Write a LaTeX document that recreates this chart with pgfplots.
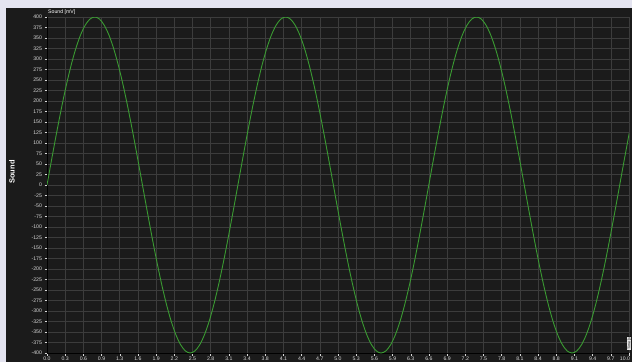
\documentclass[border=0pt]{standalone}
\usepackage{pgfplots}
\pgfplotsset{compat=1.18}
\usepackage{fontspec}
\setmainfont{Liberation Sans}
\definecolor{outerbg}{HTML}{E4E4F0}
\definecolor{panel}{HTML}{1B1B1B}
\definecolor{gridc}{HTML}{3C3C3C}
\definecolor{tickc}{HTML}{D8D8D8}
\definecolor{wave}{HTML}{3A9A32}
\begin{document}
\begin{tikzpicture}[x=1bp,y=1bp]
\fill[outerbg] (0,0) rectangle (632,362);
\fill[panel] (6,0) rectangle (632,354);
\begin{axis}[
  at={(47bp,9bp)}, anchor=south west,
  scale only axis, width=582bp, height=336bp,
  xmin=0, xmax=10, ymin=-400, ymax=400,
  xtick={0,0.3125,...,10.01},
  xticklabels={0.0,0.3,0.6,0.9,1.3,1.6,1.9,2.2,2.5,2.8,3.1,3.4,3.8,4.1,4.4,4.7,5.0,5.3,5.6,5.9,6.3,6.6,6.9,7.2,7.5,7.8,8.1,8.4,8.8,9.1,9.4,9.7,{\hspace*{-8bp}10.0}},
  ytick={-400,-375,...,400},
  grid=major,
  major grid style={gridc, line width=0.6bp},
  axis line style={draw=gridc!150, line width=0.6bp},
  axis x line*=bottom, axis y line*=left,
  tick style={tickc, line width=0.5bp},
  tick align=outside, major tick length=2.5bp,
  tick label style={font=\fontsize{5.2}{6}\selectfont, text=tickc},
  xticklabel style={yshift=1.8bp},
  yticklabel style={xshift=1bp},
  /pgf/number format/assume math mode=true,
  clip=true,
]
\addplot[wave, line width=0.9bp, smooth, tension=0.5] coordinates {
(0,0) (0.082,62.6) (0.164,123.6) (0.246,181.6) (0.328,235.1) (0.410,282.8) (0.492,323.6) (0.574,356.4) (0.656,380.4) (0.738,395.1)
(0.820,400) (0.902,395.1) (0.984,380.4) (1.066,356.4) (1.148,323.6) (1.230,282.8) (1.312,235.1) (1.394,181.6) (1.476,123.6) (1.558,62.6)
(1.640,0) (1.722,-62.6) (1.804,-123.6) (1.886,-181.6) (1.968,-235.1) (2.050,-282.8) (2.132,-323.6) (2.214,-356.4) (2.296,-380.4) (2.378,-395.1)
(2.460,-400) (2.542,-395.1) (2.624,-380.4) (2.706,-356.4) (2.788,-323.6) (2.870,-282.8) (2.952,-235.1) (3.034,-181.6) (3.116,-123.6) (3.198,-62.6)
(3.280,0) (3.362,62.6) (3.444,123.6) (3.526,181.6) (3.608,235.1) (3.690,282.8) (3.772,323.6) (3.854,356.4) (3.936,380.4) (4.018,395.1)
(4.100,400) (4.182,395.1) (4.264,380.4) (4.346,356.4) (4.428,323.6) (4.510,282.8) (4.592,235.1) (4.674,181.6) (4.756,123.6) (4.838,62.6)
(4.920,0) (5.002,-62.6) (5.084,-123.6) (5.166,-181.6) (5.248,-235.1) (5.330,-282.8) (5.412,-323.6) (5.494,-356.4) (5.576,-380.4) (5.658,-395.1)
(5.740,-400) (5.822,-395.1) (5.904,-380.4) (5.986,-356.4) (6.068,-323.6) (6.150,-282.8) (6.232,-235.1) (6.314,-181.6) (6.396,-123.6) (6.478,-62.6)
(6.560,0) (6.642,62.6) (6.724,123.6) (6.806,181.6) (6.888,235.1) (6.970,282.8) (7.052,323.6) (7.134,356.4) (7.216,380.4) (7.298,395.1)
(7.380,400) (7.462,395.1) (7.544,380.4) (7.626,356.4) (7.708,323.6) (7.790,282.8) (7.872,235.1) (7.954,181.6) (8.036,123.6) (8.118,62.6)
(8.200,0) (8.282,-62.6) (8.364,-123.6) (8.446,-181.6) (8.528,-235.1) (8.610,-282.8) (8.692,-323.6) (8.774,-356.4) (8.856,-380.4) (8.938,-395.1)
(9.020,-400) (9.102,-395.1) (9.184,-380.4) (9.266,-356.4) (9.348,-323.6) (9.430,-282.8) (9.512,-235.1) (9.594,-181.6) (9.676,-123.6) (9.758,-62.6)
(9.840,0) (9.922,62.6) (10.004,123.6)
};
\end{axis}
\node[anchor=south west, inner sep=0pt, text=white, font=\fontsize{5.2}{6}\selectfont] at (48,347) {Sound [mV]};
\node[rotate=90, text=white, font=\bfseries\fontsize{7.5}{9}\selectfont] at (12,190) {Sound};
\node[rotate=90, anchor=south west, inner sep=0.3bp, fill=gray!20, text=black, font=\fontsize{3.6}{4}\selectfont] at (631.5,12) {Time [s]};
\pgfresetboundingbox
\path[use as bounding box] (0,0) rectangle (632,362);
\end{tikzpicture}
\end{document}
